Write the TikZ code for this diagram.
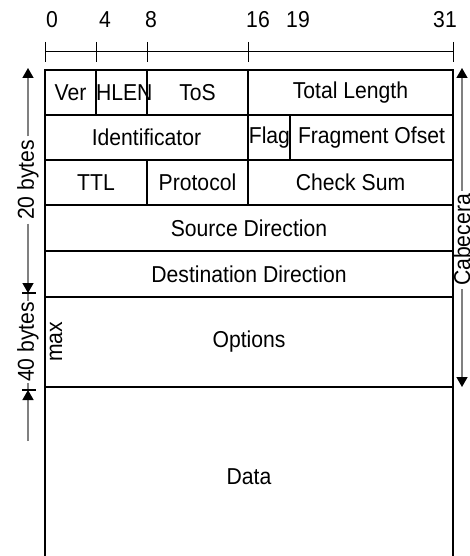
\documentclass[tikz,border=0pt]{standalone}
\usepackage{fontspec}
\setmainfont{Liberation Sans}[FakeStretch=0.92]
\usetikzlibrary{arrows.meta}
\tikzset{
  fieldbox/.style={draw, line width=2pt, inner sep=0pt},
  rulerline/.style={line width=1pt},
  barline/.style={line width=1.5pt},
  dimline/.style={draw=black!50, line width=1.5pt},
  dimarrow/.style={dimline, -{Triangle[length=10pt,width=11pt,color=black]}},
  bitlabel/.style={anchor=base, inner sep=0pt}
}
\begin{document}
\begin{tikzpicture}[x=1pt, y=-1pt, font=\fontsize{23}{27}\selectfont]
      \useasboundingbox (0,0) rectangle (470,556);
      \draw[rulerline] (45,52) -- (453,52);
      \foreach \x in {45,96,147,248,453}
        \draw[rulerline] (\x,42) -- (\x,62);
      \foreach \x/\b in {52/0,105/4,151/8,258/16,298/19,445/31}
        \node[bitlabel] (bit\b) at (\x,28) {\b};
      \node[fieldbox, minimum width=51pt, minimum height=45pt] (ver) at (70.5,92.5) {Ver};
      \node[fieldbox, minimum width=51pt, minimum height=45pt, text width=51pt, align=right] (hlen) at (121.5,92.5) {HLEN};
      \node[fieldbox, minimum width=101pt, minimum height=45pt] (tos) at (197.5,92.5) {ToS};
      \node[fieldbox, minimum width=205pt, minimum height=45pt] (totlen) at (350.5,92.5) {Total Length};
      \node[fieldbox, minimum width=203pt, minimum height=45pt] (ident) at (146.5,137.5) {Identificator};
      \node[fieldbox, minimum width=42pt, minimum height=45pt, text width=42pt, align=right] (flag) at (269,137.5) {Flag};
      \node[fieldbox, minimum width=163pt, minimum height=45pt] (fragoff) at (371.5,137.5) {Fragment Ofset};
      \node[fieldbox, minimum width=102pt, minimum height=45pt] (ttl) at (96,182.5) {TTL};
      \node[fieldbox, minimum width=101pt, minimum height=45pt] (proto) at (197.5,182.5) {Protocol};
      \node[fieldbox, minimum width=205pt, minimum height=45pt] (chksum) at (350.5,182.5) {Check Sum};
      \node[fieldbox, minimum width=408pt, minimum height=46pt] (srcdir) at (249,228) {Source Direction};
      \node[fieldbox, minimum width=408pt, minimum height=46pt] (dstdir) at (249,274) {Destination Direction};
      \node[fieldbox, minimum width=408pt, minimum height=90pt] (options) at (249,342) {Options};
      \node[fieldbox, minimum width=408pt, minimum height=193pt] (data) at (249,483.5) {};
      \node (datatext) at (249,477) {Data};
      \node[rotate=90] (max) at (56,342) {max};
      \coordinate (top20) at (28,68);
      \coordinate (bot20) at (28,293);
      \coordinate (bot40) at (28,390);
      \coordinate (low40) at (28,441);
      \node[rotate=90] (bytes20) at (28,180) {20 bytes};
      \node[rotate=90, inner sep=1pt] (bytes40) at (28,342) {40 bytes};
      \draw[dimarrow] (bytes20) -- (top20);
      \draw[dimarrow] (bytes20) -- (bot20);
      \draw[dimline] (bytes40) -- (bot20);
      \draw[dimline] (bytes40) -- (bot40);
      \draw[dimarrow] (low40) -- (bot40);
      \draw[barline] (22,293) -- (36,293);
      \draw[barline] (22,390) -- (36,390);
      \coordinate (cabtop) at (462,68);
      \coordinate (cabbot) at (462,387);
      \node[rotate=90] (cab) at (462,240) {Cabecera};
      \draw[dimarrow] (cab) -- (cabtop);
      \draw[dimarrow] (cab) -- (cabbot);
    \end{tikzpicture}
\end{document}
